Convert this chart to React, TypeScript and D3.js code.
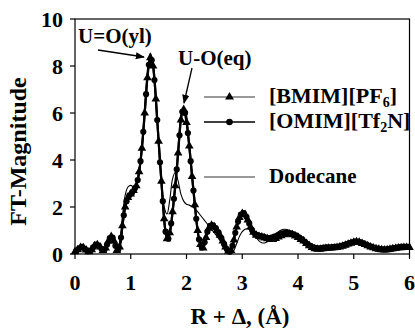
import React from "react";
import * as d3 from "d3";

// R grid (Å) for the [BMIM][PF6] and dodecane spectra, and the half-step grid of [OMIM][Tf2N]
const rGrid: number[] = d3.range(121).map((i) => +(i * 0.05).toFixed(3));
const rGridHalf: number[] = d3.range(120).map((i) => +(0.025 + i * 0.05).toFixed(3));

const bmimPF6: number[] = [
  0.10, 0.18, 0.28, 0.27, 0.17, 0.10, 0.18, 0.35, 0.40, 0.30,
  0.15, 0.25, 0.55, 0.75, 0.55, 0.15, 0.30, 1.20, 2.00, 2.40,
  2.55, 2.70, 2.90, 3.50, 4.50, 6.00, 7.50, 8.35, 8.00, 6.60,
  4.80, 3.10, 1.50, 0.65, 0.90, 1.80, 2.90, 4.30, 5.70, 6.15,
  5.60, 4.60, 3.30, 2.10, 1.00, 0.40, 0.25, 0.70, 1.10, 1.22,
  1.15, 1.00, 0.80, 0.55, 0.30, 0.12, 0.15, 0.60, 1.15, 1.55,
  1.72, 1.68, 1.45, 1.15, 0.92, 0.80, 0.75, 0.72, 0.68, 0.65,
  0.62, 0.62, 0.66, 0.72, 0.78, 0.82, 0.85, 0.85, 0.82, 0.76,
  0.70, 0.62, 0.55, 0.45, 0.35, 0.28, 0.22, 0.20, 0.20, 0.22,
  0.24, 0.25, 0.25, 0.26, 0.28, 0.30, 0.33, 0.37, 0.42, 0.46,
  0.50, 0.52, 0.50, 0.45, 0.40, 0.35, 0.30, 0.26, 0.22, 0.20,
  0.18, 0.17, 0.18, 0.20, 0.22, 0.24, 0.26, 0.27, 0.28, 0.28,
  0.28,
];

const omimTf2N: number[] = [
  0.14, 0.24, 0.30, 0.22, 0.12, 0.13, 0.28, 0.40, 0.36, 0.22,
  0.17, 0.40, 0.68, 0.70, 0.35, 0.18, 0.70, 1.65, 2.25, 2.50,
  2.62, 2.80, 3.15, 3.95, 5.20, 6.80, 8.05, 8.25, 7.40, 5.70,
  3.90, 2.25, 0.95, 0.65, 1.30, 2.35, 3.60, 5.05, 6.05, 6.00,
  5.15, 3.95, 2.70, 1.50, 0.62, 0.28, 0.50, 0.95, 1.20, 1.22,
  1.10, 0.92, 0.68, 0.42, 0.20, 0.10, 0.35, 0.90, 1.38, 1.68,
  1.74, 1.58, 1.30, 1.02, 0.86, 0.80, 0.76, 0.74, 0.70, 0.68,
  0.70, 0.74, 0.78, 0.84, 0.88, 0.90, 0.90, 0.88, 0.84, 0.78,
  0.70, 0.62, 0.52, 0.42, 0.34, 0.28, 0.25, 0.24, 0.25, 0.27,
  0.28, 0.28, 0.29, 0.30, 0.32, 0.35, 0.38, 0.42, 0.46, 0.50,
  0.53, 0.53, 0.50, 0.45, 0.40, 0.35, 0.30, 0.26, 0.23, 0.21,
  0.20, 0.20, 0.21, 0.23, 0.25, 0.27, 0.29, 0.30, 0.31, 0.31,
];

const dodecane: number[] = [
  0.08, 0.15, 0.25, 0.24, 0.15, 0.10, 0.18, 0.33, 0.38, 0.28,
  0.15, 0.25, 0.52, 0.72, 0.52, 0.18, 0.50, 1.60, 2.50, 2.85,
  2.92, 2.85, 2.95, 3.60, 4.60, 6.10, 7.70, 8.55, 8.10, 6.60,
  4.80, 3.20, 2.00, 1.70, 2.30, 3.20, 3.48, 3.10, 2.55, 2.25,
  2.12, 2.08, 2.02, 1.92, 1.80, 1.65, 1.50, 1.35, 1.20, 1.05,
  0.90, 0.75, 0.60, 0.42, 0.25, 0.10, 0.03, 0.15, 0.45, 0.75,
  0.95, 1.05, 1.08, 1.00, 0.85, 0.70, 0.56, 0.48, 0.47, 0.52,
  0.62, 0.74, 0.86, 0.95, 1.02, 1.05, 1.04, 0.98, 0.88, 0.78,
  0.68, 0.58, 0.48, 0.40, 0.33, 0.27, 0.23, 0.21, 0.21, 0.22,
  0.24, 0.25, 0.26, 0.27, 0.29, 0.31, 0.34, 0.38, 0.42, 0.46,
  0.49, 0.50, 0.48, 0.44, 0.39, 0.34, 0.29, 0.25, 0.22, 0.20,
  0.18, 0.18, 0.19, 0.21, 0.23, 0.25, 0.26, 0.27, 0.28, 0.28,
  0.28,
];

const xTicks: number[] = [0, 1, 2, 3, 4, 5, 6];
const yTicks: number[] = [0, 2, 4, 6, 8, 10];

const W = 415;
const H = 328;
const FONT = "Liberation Serif";
const txt: React.CSSProperties = { fontFamily: FONT, fontWeight: 700 };

export default function App() {
  const x = d3.scaleLinear().domain([0, 6]).range([75, 409.5]);
  const y = d3.scaleLinear().domain([0, 10]).range([254, 19]);

  const line = d3
    .line<[number, number]>()
    .x((d) => x(d[0]))
    .y((d) => y(d[1]))
    .curve(d3.curveCatmullRom.alpha(0.5));

  const bmimPts: [number, number][] = rGrid.map((r, i) => [r, bmimPF6[i]]);
  const omimPts: [number, number][] = rGridHalf.map((r, i) => [r, omimTf2N[i]]);
  const dodPts: [number, number][] = rGrid.map((r, i) => [r, dodecane[i]]);

  const tri = d3.symbol().type(d3.symbolTriangle).size(32)() as string;
  const circ = d3.symbol().type(d3.symbolCircle).size(30)() as string;
  const triLeg = d3.symbol().type(d3.symbolTriangle).size(34)() as string;
  const circLeg = d3.symbol().type(d3.symbolCircle).size(34)() as string;

  const [x0, x1] = x.range();
  const [y0, y1] = y.range();

  const legX0 = 204;
  const legX1 = 255;
  const legTextX = 269;

  return (
    <svg
      width={W}
      height={H}
      viewBox={`0 0 ${W} ${H}`}
      style={{ position: "absolute", left: 0, top: 0, background: "#fff" }}
    >
      <defs>
        <marker id="arrowHead" viewBox="0 0 10 10" refX="9" refY="5" markerWidth="7" markerHeight="7" orient="auto">
          <path d="M0,1 L10,5 L0,9 z" fill="#000" />
        </marker>
      </defs>

      {/* plot frame */}
      <rect x={x0} y={y1} width={x1 - x0} height={y0 - y1} fill="none" stroke="#000" strokeWidth={1.2} />

      {/* y axis ticks and labels */}
      {yTicks.map((t) => (
        <g key={`y${t}`}>
          <line x1={x0 - 5} x2={x0} y1={y(t)} y2={y(t)} stroke="#000" strokeWidth={1.2} />
          <text x={x0 - 12} y={y(t)} dy="0.35em" textAnchor="end" fontSize={22} style={txt}>
            {t}
          </text>
        </g>
      ))}

      {/* x axis ticks and labels */}
      {xTicks.map((t) => (
        <g key={`x${t}`}>
          <line x1={x(t)} x2={x(t)} y1={y0} y2={y0 + 5} stroke="#000" strokeWidth={1.2} />
          <text x={x(t)} y={290} textAnchor="middle" fontSize={22} style={txt}>
            {t}
          </text>
        </g>
      ))}

      {/* axis titles */}
      <text x={240} y={324} textAnchor="middle" fontSize={23} style={txt}>
        R + Δ, (Å)
      </text>
      <text transform={`translate(26,${(y0 + y1) / 2 + 15}) rotate(-90)`} textAnchor="middle" fontSize={24} style={txt}>
        FT-Magnitude
      </text>

      {/* spectra */}
      <path d={line(dodPts) as string} fill="none" stroke="#000" strokeWidth={1.1} />
      <path d={line(bmimPts) as string} fill="none" stroke="#000" strokeWidth={2.2} />
      <path d={line(omimPts) as string} fill="none" stroke="#000" strokeWidth={2.2} />
      {bmimPts.map((p, i) => (
        <path key={`b${i}`} d={tri} transform={`translate(${x(p[0])},${y(p[1])})`} fill="#000" />
      ))}
      {omimPts.map((p, i) => (
        <path key={`o${i}`} d={circ} transform={`translate(${x(p[0])},${y(p[1])})`} fill="#000" />
      ))}

      {/* peak annotations */}
      <text x={78} y={43} fontSize={21} style={txt}>U=O(yl)</text>
      <line x1={98} y1={50} x2={144} y2={57} stroke="#000" strokeWidth={1.3} markerEnd="url(#arrowHead)" />
      <text x={178} y={65} fontSize={21} style={txt}>U-O(eq)</text>
      <line x1={192} y1={68} x2={184} y2={103} stroke="#000" strokeWidth={1.3} markerEnd="url(#arrowHead)" />

      {/* legend */}
      <line x1={legX0} x2={legX1} y1={97} y2={97} stroke="#333" strokeWidth={1} />
      <path d={triLeg} transform={`translate(${(legX0 + legX1) / 2},97)`} fill="#000" />
      <text x={legTextX} y={103} fontSize={22} style={txt}>
        [BMIM][PF<tspan fontSize={14} dy={4}>6</tspan><tspan dy={-4}>]</tspan>
      </text>

      <line x1={legX0} x2={legX1} y1={122} y2={122} stroke="#000" strokeWidth={1.5} />
      <path d={circLeg} transform={`translate(${(legX0 + legX1) / 2},122)`} fill="#000" />
      <text x={legTextX} y={128} fontSize={22} style={txt}>
        [OMIM][Tf<tspan fontSize={14} dy={4}>2</tspan><tspan dy={-4}>N]</tspan>
      </text>

      <line x1={legX0} x2={legX1} y1={177} y2={177} stroke="#333" strokeWidth={1} />
      <text x={legTextX} y={183} fontSize={21} style={txt}>
        Dodecane
      </text>
    </svg>
  );
}
